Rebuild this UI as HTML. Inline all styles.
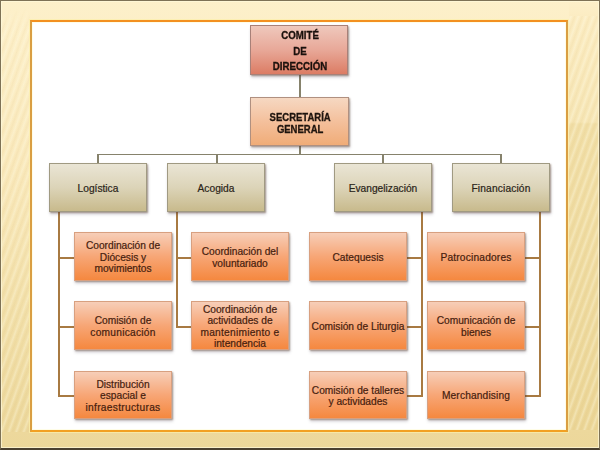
<!DOCTYPE html>
<html><head><meta charset="utf-8">
<style>
html,body{margin:0;padding:0;width:600px;height:450px;overflow:hidden}
body{position:relative;font-family:"Liberation Sans",sans-serif;
background:linear-gradient(180deg,#FDF0CA 0%,#FAE9BC 35%,#F2DFA8 70%,#ECD79A 100%);}
.ls{position:absolute;left:0;top:0;width:30px;height:432px;-webkit-mask-image:linear-gradient(180deg,transparent 0px,transparent 8px,#000 30px);mask-image:linear-gradient(180deg,transparent 0px,transparent 8px,#000 30px);background:repeating-linear-gradient(110deg,rgba(255,252,230,0) 0px,rgba(255,252,230,.32) 2px,rgba(255,252,230,0) 4px,rgba(200,170,100,.07) 5.5px,rgba(255,252,230,0) 7px)}
.rs{position:absolute;left:569px;top:0;width:30px;height:450px;background:repeating-linear-gradient(110deg,rgba(255,252,230,0) 0px,rgba(255,252,230,.35) 2px,rgba(255,252,230,0) 4px,rgba(200,170,100,.07) 5.5px,rgba(255,252,230,0) 7px) 0 16px/30px 414px no-repeat,linear-gradient(180deg,#FDF0CA 0px,#FBEBC0 22px,#F6E5B4 122px,#F1DEA6 124px,#EBD596 430px,rgba(0,0,0,0) 430px)}
.edge{position:absolute;left:0;top:0;width:600px;height:450px;box-sizing:border-box;border:1px solid #7E7256;border-bottom:2px solid #4A4030;border-left-width:1.5px;box-shadow:inset 0 0 0 1px rgba(255,250,220,.7)}
.frame{position:absolute;left:30px;top:20px;width:538px;height:412px;border-style:solid;border-width:2.5px 2px 2px 2px;border-color:#F39020 #DA9E42 #F2A022 #DA9E42;background:#fff;box-sizing:border-box;box-shadow:0 0 0 1px rgba(252,240,170,.7),inset 0 0 0 1px rgba(255,252,225,.8)}
.b{position:absolute;box-sizing:border-box;display:flex;align-items:center;justify-content:center;text-align:center;line-height:11.4px;font-size:10.2px;padding-top:2px;box-shadow:1px 1px 1.5px rgba(90,60,40,.45),1px 2.5px 3px rgba(70,60,80,.22)}
.t{background:linear-gradient(180deg,#EAE5D5 0%,#DCD4B8 50%,#C8BA8C 100%);border:1px solid #A09A82;color:#2A2418;-webkit-text-stroke:0.2px #2A2418;top:163px;width:98px;height:49px}
.o{background:linear-gradient(180deg,#F7CEB8 0%,#F7A676 50%,#F5883F 100%);border:1px solid #D8A080;color:#45200E;-webkit-text-stroke:0.2px #45200E;width:98px;height:49px}
.ln{position:absolute;background:#86826C}
.lo{position:absolute;background:#A87A42}
</style></head><body>
<div class="ls"></div>
<div class="rs"></div>
<div class="edge"></div>
<div class="frame"></div>

<!-- connectors -->
<div class="ln" style="left:299px;top:74px;width:2px;height:24px"></div>
<div class="ln" style="left:299px;top:146px;width:2px;height:9px"></div>
<div class="ln" style="left:97.5px;top:153.6px;width:404px;height:1.5px"></div>
<div class="ln" style="left:97px;top:154px;width:2px;height:10px"></div>
<div class="ln" style="left:216px;top:154px;width:2px;height:10px"></div>
<div class="ln" style="left:382px;top:154px;width:2px;height:10px"></div>
<div class="ln" style="left:500px;top:154px;width:2px;height:10px"></div>

<div class="lo" style="left:58px;top:212px;width:2px;height:185px"></div>
<div class="lo" style="left:58px;top:257px;width:16px;height:2px"></div>
<div class="lo" style="left:58px;top:326px;width:16px;height:2px"></div>
<div class="lo" style="left:58px;top:395px;width:16px;height:2px"></div>

<div class="lo" style="left:176px;top:212px;width:2px;height:116px"></div>
<div class="lo" style="left:176px;top:257px;width:16px;height:2px"></div>
<div class="lo" style="left:176px;top:326px;width:16px;height:2px"></div>

<div class="lo" style="left:421px;top:212px;width:2px;height:185px"></div>
<div class="lo" style="left:407px;top:257px;width:16px;height:2px"></div>
<div class="lo" style="left:407px;top:326px;width:16px;height:2px"></div>
<div class="lo" style="left:407px;top:395px;width:16px;height:2px"></div>

<div class="lo" style="left:539px;top:212px;width:2px;height:185px"></div>
<div class="lo" style="left:524px;top:257px;width:16px;height:2px"></div>
<div class="lo" style="left:524px;top:326px;width:16px;height:2px"></div>
<div class="lo" style="left:524px;top:395px;width:16px;height:2px"></div>

<!-- top boxes -->
<div class="b" style="left:250px;top:25px;width:98px;height:50px;background:linear-gradient(180deg,#EFC8BC 0%,#E8A898 50%,#DC7C64 100%);border:1px solid #A88078;color:#1A100C;-webkit-text-stroke:0.3px #1A100C;font-weight:bold;font-size:10px;line-height:15.4px;padding-top:3px;padding-left:3px"><div style="transform:scaleX(.97)">COMITÉ<br>DE<br>DIRECCIÓN</div></div>
<div class="b" style="left:250px;top:97px;width:99px;height:49px;background:linear-gradient(180deg,#F6D8C2 0%,#F4C09C 50%,#F0AC78 100%);border:1px solid #B09080;color:#1E140E;-webkit-text-stroke:0.3px #1E140E;font-weight:bold;font-size:10px;line-height:11.5px;padding-top:4px;padding-left:2px"><div style="transform:scaleX(.95)">SECRETARÍA<br>GENERAL</div></div>

<!-- level 2 -->
<div class="b t" style="left:49px"><div>Logística</div></div>
<div class="b t" style="left:167px"><div>Acogida</div></div>
<div class="b t" style="left:334px"><div>Evangelización</div></div>
<div class="b t" style="left:452px"><div style="letter-spacing:.15px">Financiación</div></div>

<!-- level 3 -->
<div class="b o" style="left:74px;top:232px"><div>Coordinación de<br>Diócesis y<br>movimientos</div></div>
<div class="b o" style="left:74px;top:301px;height:49px"><div>Comisión de<br><span style="letter-spacing:.25px">comunicación</span></div></div>
<div class="b o" style="left:74px;top:371px;height:48px"><div>Distribución<br>espacial e<br><span style="letter-spacing:.3px">infraestructuras</span></div></div>

<div class="b o" style="left:191px;top:232px"><div>Coordinación del<br>voluntariado</div></div>
<div class="b o" style="left:191px;top:301px;height:49px"><div>Coordinación de<br>actividades de<br><span style="letter-spacing:.25px">mantenimiento e</span><br>intendencia</div></div>

<div class="b o" style="left:309px;top:232px"><div>Catequesis</div></div>
<div class="b o" style="left:309px;top:301px;height:49px"><div>Comisión de Liturgia</div></div>
<div class="b o" style="left:309px;top:371px;height:48px"><div>Comisión de talleres<br>y actividades</div></div>

<div class="b o" style="left:427px;top:232px"><div style="letter-spacing:.18px">Patrocinadores</div></div>
<div class="b o" style="left:427px;top:301px;height:49px"><div>Comunicación de<br>bienes</div></div>
<div class="b o" style="left:427px;top:371px;height:48px"><div><span style="letter-spacing:.15px">Merchandising</span></div></div>
</body></html>
